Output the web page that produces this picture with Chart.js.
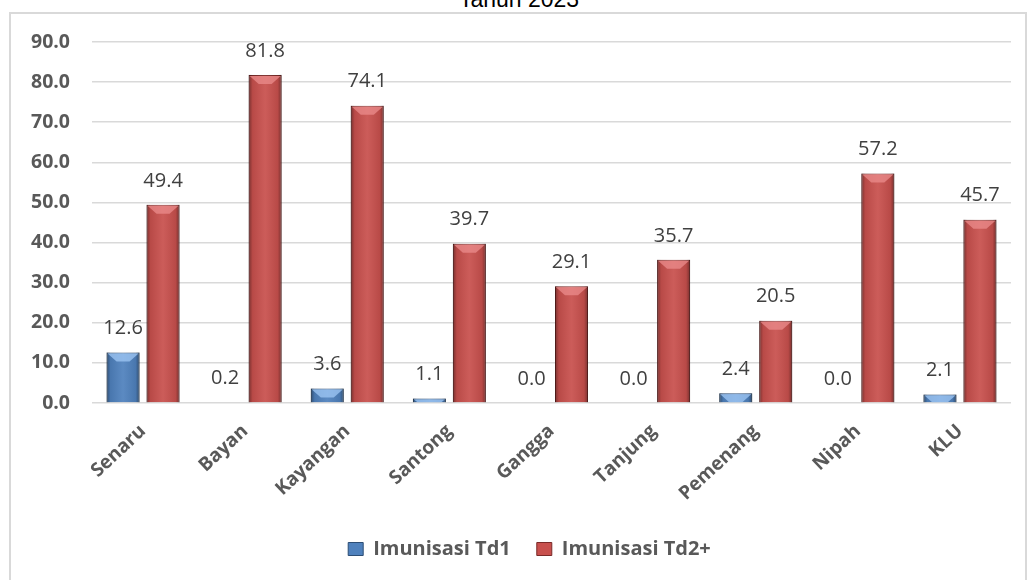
<!DOCTYPE html>
<html><head><meta charset="utf-8">
<script src="https://cdn.jsdelivr.net/npm/chart.js@4/dist/chart.umd.min.js"></script>
<style>
html,body{margin:0;padding:0;background:#fff;overflow:hidden;}
#wrap{position:relative;width:1027px;height:580px;}
#frame{position:absolute;left:9px;top:12px;width:1018px;height:580px;border:2px solid #d9d9d9;border-bottom:none;box-sizing:border-box;}
#title{position:absolute;left:0;width:1038px;text-align:center;top:-12px;font-family:"Liberation Sans",Arial,sans-serif;font-size:23px;line-height:22px;color:#000;}
canvas{position:absolute;left:0;top:0;}
</style></head>
<body>
<div id="wrap">
<div id="frame"></div>
<div id="title">Tahun 2023</div>
<canvas id="c" width="1027" height="580"></canvas>
</div>
<script>
const categories = ["Senaru","Bayan","Kayangan","Santong","Gangga","Tanjung","Pemenang","Nipah","KLU"];
const td1 = [12.6, 0.2, 3.6, 1.1, 0.0, 0.0, 2.4, 0.0, 2.1];
const td2 = [49.4, 81.8, 74.1, 39.7, 29.1, 35.7, 20.5, 57.2, 45.7];
const seriesNames = ["Imunisasi Td1", "Imunisasi Td2+"];
const yTicks = [0,10,20,30,40,50,60,70,80,90];

const legendShift = {
  id: 'legendShift',
  afterLayout(chart) {
    const lg = chart.legend;
    if (lg) { lg.left += 24; lg.right += 24; }
  }
};

const shadePlugin = {
  id: 'shade',
  afterDatasetDraw(chart, args) {
    const ctx = chart.ctx;
    const meta = args.meta;
    const lightCol = meta.index === 0 ? 'rgba(160,200,245,0.75)' : 'rgba(235,140,140,0.75)';
    meta.data.forEach(el => {
      const p = el.getProps(['x','y','base','width'], true);
      const left = p.x - p.width/2, w = p.width, top = Math.min(p.y, p.base), h = Math.abs(p.base - p.y);
      if (h < 0.5) return;
      ctx.save();
      const g = ctx.createLinearGradient(left, 0, left + w, 0);
      g.addColorStop(0, 'rgba(0,0,0,0.4)');
      g.addColorStop(0.12, 'rgba(0,0,0,0.08)');
      g.addColorStop(0.5, 'rgba(255,255,255,0.07)');
      g.addColorStop(0.88, 'rgba(0,0,0,0.08)');
      g.addColorStop(1, 'rgba(0,0,0,0.4)');
      ctx.fillStyle = g;
      ctx.fillRect(left, top, w, h);
      const b = Math.min(9, h);
      ctx.beginPath();
      ctx.moveTo(left+1, top+1);
      ctx.lineTo(left + w - 1, top+1);
      ctx.lineTo(left + w - 1 - b, top + b);
      ctx.lineTo(left + 1 + b, top + b);
      ctx.closePath();
      ctx.fillStyle = lightCol;
      ctx.fill();
      ctx.restore();
    });
  },
  afterDatasetsDraw(chart) {
    const ctx = chart.ctx;
    ctx.save();
    ctx.font = '20px "Open Sans"';
    ctx.fillStyle = '#404040';
    ctx.textAlign = 'center';
    ctx.textBaseline = 'middle';
    chart.data.datasets.forEach((ds, i) => {
      const meta = chart.getDatasetMeta(i);
      meta.data.forEach((el, j) => {
        const p = el.getProps(['x','y'], true);
        ctx.fillText(ds.data[j].toFixed(1), p.x, p.y - 24);
      });
    });
    ctx.restore();
  }
};

new Chart(document.getElementById('c'), {
  type: 'bar',
  data: {
    labels: categories,
    datasets: [
      { label: seriesNames[0], data: td1, backgroundColor: '#4f81bd', borderColor: '#2c4d75', borderWidth: 1,
        categoryPercentage: 0.783, barPercentage: 0.825 },
      { label: seriesNames[1], data: td2, backgroundColor: '#c8504d', borderColor: '#7a2a28', borderWidth: 1,
        categoryPercentage: 0.783, barPercentage: 0.825 }
    ]
  },
  options: {
    responsive: false,
    devicePixelRatio: 1,
    animation: false,
    layout: { padding: { left: 0, right: 16, top: 42, bottom: 11 } },
    plugins: {
      legend: {
        position: 'bottom',
        labels: { font: { family: 'Open Sans', weight: 'bold', size: 20 }, color: '#595959', boxWidth: 15, boxHeight: 13, padding: 26 }
      },
      tooltip: { enabled: false },
      title: { display: false }
    },
    scales: {
      x: {
        grid: { display: false },
        border: { display: false },
        ticks: { font: { family: 'Open Sans', weight: 'bold', size: 19 }, color: '#595959', minRotation: 43, maxRotation: 43, padding: 9 },
        afterFit(s) { s.height = 110; }
      },
      y: {
        min: 0, max: 90,
        afterBuildTicks(s) { s.ticks = yTicks.map(v => ({ value: v })); },
        ticks: { callback: v => Number(v).toFixed(1), font: { family: 'Open Sans', weight: 'bold', size: 19.5 }, color: '#595959', padding: 22 },
        grid: { color: '#d9d9d9', lineWidth: 1.5, drawTicks: false },
        border: { display: false },
        afterFit(s) { s.width = 92; }
      }
    }
  },
  plugins: [shadePlugin, legendShift]
});
</script>
</body></html>
